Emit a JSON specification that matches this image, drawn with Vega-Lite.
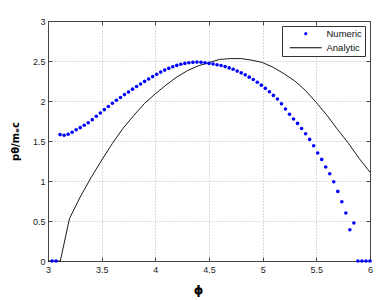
{
  "$schema": "https://vega.github.io/schema/vega-lite/v6.json",
  "width": 322,
  "height": 240,
  "autosize": {"type": "none"},
  "padding": {"left": 48, "top": 21, "right": 12, "bottom": 39},
  "background": "white",
  "config": {
    "view": {"stroke": null},
    "axis": {
      "domainColor": "#444444",
      "domainWidth": 1,
      "tickColor": "#444444",
      "tickSize": -4,
      "labelFont": "Liberation Sans",
      "labelFontSize": 9,
      "labelColor": "#222222",
      "gridColor": "#b8b8b8",
      "gridDash": [1, 2],
      "gridWidth": 1,
      "titleFont": "DejaVu Sans",
      "titleFontWeight": "bold",
      "titleColor": "#000000",
      "labelFlush": false,
      "labelOverlap": false,
      "format": "~g"
    }
  },
  "data": {
    "values": [
      {"series": "Numeric", "phi": 3.0375, "p": 0},
      {"series": "Numeric", "phi": 3.075, "p": 0},
      {"series": "Numeric", "phi": 3.1125, "p": 1.58},
      {"series": "Numeric", "phi": 3.15, "p": 1.571},
      {"series": "Numeric", "phi": 3.1875, "p": 1.585},
      {"series": "Numeric", "phi": 3.225, "p": 1.61},
      {"series": "Numeric", "phi": 3.2625, "p": 1.64},
      {"series": "Numeric", "phi": 3.3, "p": 1.667},
      {"series": "Numeric", "phi": 3.3375, "p": 1.696},
      {"series": "Numeric", "phi": 3.375, "p": 1.728},
      {"series": "Numeric", "phi": 3.4125, "p": 1.767},
      {"series": "Numeric", "phi": 3.45, "p": 1.809},
      {"series": "Numeric", "phi": 3.4875, "p": 1.85},
      {"series": "Numeric", "phi": 3.525, "p": 1.892},
      {"series": "Numeric", "phi": 3.5625, "p": 1.932},
      {"series": "Numeric", "phi": 3.6, "p": 1.971},
      {"series": "Numeric", "phi": 3.6375, "p": 2.009},
      {"series": "Numeric", "phi": 3.675, "p": 2.044},
      {"series": "Numeric", "phi": 3.7125, "p": 2.08},
      {"series": "Numeric", "phi": 3.75, "p": 2.113},
      {"series": "Numeric", "phi": 3.7875, "p": 2.148},
      {"series": "Numeric", "phi": 3.825, "p": 2.182},
      {"series": "Numeric", "phi": 3.8625, "p": 2.213},
      {"series": "Numeric", "phi": 3.9, "p": 2.245},
      {"series": "Numeric", "phi": 3.9375, "p": 2.275},
      {"series": "Numeric", "phi": 3.975, "p": 2.305},
      {"series": "Numeric", "phi": 4.0125, "p": 2.334},
      {"series": "Numeric", "phi": 4.05, "p": 2.361},
      {"series": "Numeric", "phi": 4.0875, "p": 2.386},
      {"series": "Numeric", "phi": 4.125, "p": 2.408},
      {"series": "Numeric", "phi": 4.1625, "p": 2.428},
      {"series": "Numeric", "phi": 4.2, "p": 2.445},
      {"series": "Numeric", "phi": 4.2375, "p": 2.459},
      {"series": "Numeric", "phi": 4.275, "p": 2.47},
      {"series": "Numeric", "phi": 4.3125, "p": 2.478},
      {"series": "Numeric", "phi": 4.35, "p": 2.483},
      {"series": "Numeric", "phi": 4.3875, "p": 2.486},
      {"series": "Numeric", "phi": 4.425, "p": 2.484},
      {"series": "Numeric", "phi": 4.4625, "p": 2.478},
      {"series": "Numeric", "phi": 4.5, "p": 2.47},
      {"series": "Numeric", "phi": 4.5375, "p": 2.462},
      {"series": "Numeric", "phi": 4.575, "p": 2.453},
      {"series": "Numeric", "phi": 4.6125, "p": 2.443},
      {"series": "Numeric", "phi": 4.65, "p": 2.43},
      {"series": "Numeric", "phi": 4.6875, "p": 2.414},
      {"series": "Numeric", "phi": 4.725, "p": 2.396},
      {"series": "Numeric", "phi": 4.7625, "p": 2.374},
      {"series": "Numeric", "phi": 4.8, "p": 2.352},
      {"series": "Numeric", "phi": 4.8375, "p": 2.327},
      {"series": "Numeric", "phi": 4.875, "p": 2.298},
      {"series": "Numeric", "phi": 4.9125, "p": 2.268},
      {"series": "Numeric", "phi": 4.95, "p": 2.235},
      {"series": "Numeric", "phi": 4.9875, "p": 2.198},
      {"series": "Numeric", "phi": 5.025, "p": 2.158},
      {"series": "Numeric", "phi": 5.0625, "p": 2.115},
      {"series": "Numeric", "phi": 5.1, "p": 2.07},
      {"series": "Numeric", "phi": 5.1375, "p": 2.025},
      {"series": "Numeric", "phi": 5.175, "p": 1.965},
      {"series": "Numeric", "phi": 5.2125, "p": 1.9},
      {"series": "Numeric", "phi": 5.25, "p": 1.835},
      {"series": "Numeric", "phi": 5.2875, "p": 1.775},
      {"series": "Numeric", "phi": 5.325, "p": 1.72},
      {"series": "Numeric", "phi": 5.3625, "p": 1.657},
      {"series": "Numeric", "phi": 5.4, "p": 1.59},
      {"series": "Numeric", "phi": 5.4375, "p": 1.52},
      {"series": "Numeric", "phi": 5.475, "p": 1.44},
      {"series": "Numeric", "phi": 5.5125, "p": 1.35},
      {"series": "Numeric", "phi": 5.55, "p": 1.27},
      {"series": "Numeric", "phi": 5.5875, "p": 1.175},
      {"series": "Numeric", "phi": 5.625, "p": 1.09},
      {"series": "Numeric", "phi": 5.6625, "p": 0.99},
      {"series": "Numeric", "phi": 5.7, "p": 0.87},
      {"series": "Numeric", "phi": 5.7375, "p": 0.74},
      {"series": "Numeric", "phi": 5.775, "p": 0.6},
      {"series": "Numeric", "phi": 5.8125, "p": 0.39},
      {"series": "Numeric", "phi": 5.85, "p": 0.475},
      {"series": "Numeric", "phi": 5.8875, "p": 0},
      {"series": "Numeric", "phi": 5.925, "p": 0},
      {"series": "Numeric", "phi": 5.9625, "p": 0},
      {"series": "Numeric", "phi": 6.0, "p": 0},
      {"series": "Analytic", "phi": 3.0, "p": 0},
      {"series": "Analytic", "phi": 3.115, "p": 0},
      {"series": "Analytic", "phi": 3.2, "p": 0.53},
      {"series": "Analytic", "phi": 3.3, "p": 0.8},
      {"series": "Analytic", "phi": 3.4, "p": 1.04},
      {"series": "Analytic", "phi": 3.5, "p": 1.26},
      {"series": "Analytic", "phi": 3.6, "p": 1.47},
      {"series": "Analytic", "phi": 3.7, "p": 1.66},
      {"series": "Analytic", "phi": 3.8, "p": 1.82},
      {"series": "Analytic", "phi": 3.9, "p": 1.97},
      {"series": "Analytic", "phi": 4.0, "p": 2.09},
      {"series": "Analytic", "phi": 4.1, "p": 2.2},
      {"series": "Analytic", "phi": 4.2, "p": 2.3},
      {"series": "Analytic", "phi": 4.3, "p": 2.38},
      {"series": "Analytic", "phi": 4.4, "p": 2.44},
      {"series": "Analytic", "phi": 4.5, "p": 2.48},
      {"series": "Analytic", "phi": 4.6, "p": 2.52},
      {"series": "Analytic", "phi": 4.7, "p": 2.53},
      {"series": "Analytic", "phi": 4.8, "p": 2.53},
      {"series": "Analytic", "phi": 4.9, "p": 2.51},
      {"series": "Analytic", "phi": 5.0, "p": 2.48},
      {"series": "Analytic", "phi": 5.1, "p": 2.42},
      {"series": "Analytic", "phi": 5.2, "p": 2.34},
      {"series": "Analytic", "phi": 5.3, "p": 2.25},
      {"series": "Analytic", "phi": 5.4, "p": 2.13},
      {"series": "Analytic", "phi": 5.5, "p": 1.98},
      {"series": "Analytic", "phi": 5.6, "p": 1.82},
      {"series": "Analytic", "phi": 5.7, "p": 1.64},
      {"series": "Analytic", "phi": 5.8, "p": 1.47},
      {"series": "Analytic", "phi": 5.9, "p": 1.28},
      {"series": "Analytic", "phi": 6.0, "p": 1.11}
    ]
  },
  "layer": [
    {
      "transform": [{"filter": "datum.series === 'Analytic'"}],
      "mark": {"type": "line", "strokeWidth": 0.9, "clip": false},
      "encoding": {
        "x": {
          "field": "phi", "type": "quantitative",
          "scale": {"domain": [3, 6], "nice": false, "zero": false},
          "axis": {"orient": "bottom", "values": [3, 3.5, 4, 4.5, 5, 5.5, 6], "grid": true, "title": "ϕ", "titleFontSize": 12, "titleX": 150, "titlePadding": 10, "labelPadding": 8}
        },
        "y": {
          "field": "p", "type": "quantitative",
          "scale": {"domain": [0, 3], "nice": false, "zero": false},
          "axis": {"orient": "left", "values": [0, 0.5, 1, 1.5, 2, 2.5, 3], "grid": true, "title": "pθ/mₑc", "titleFontSize": 10, "titlePadding": 12, "labelPadding": 7}
        },
        "color": {
          "field": "series", "type": "nominal",
          "scale": {"domain": ["Numeric", "Analytic"], "range": ["#0000ff", "#000000"]},
          "legend": {
            "title": null,
            "orient": "top-right",
            "offset": 5,
            "padding": 3,
            "rowPadding": 3,
            "labelFont": "Liberation Sans",
            "labelFontSize": 9.5,
            "labelColor": "#111111",
            "strokeColor": "#333333",
            "fillColor": "white",
            "cornerRadius": 0,
            "symbolSize": 16,
            "labelOffset": 32,
            "encode": {
              "symbols": {
                "update": {
                  "shape": {"signal": "datum.value === 'Numeric' ? 'M7.4,0A0.6,0.6 0 1,0 8.6,0A0.6,0.6 0 1,0 7.4,0Z' : 'M0,0L16,0'"},
                  "fill": {"signal": "datum.value === 'Numeric' ? '#0000ff' : 'transparent'"},
                  "stroke": {"signal": "datum.value === 'Numeric' ? '#0000ff' : '#222222'"},
                  "strokeWidth": {"value": 1},
                  "opacity": {"value": 1}
                }
              }
            }
          }
        }
      }
    },
    {
      "transform": [{"filter": "datum.series === 'Numeric'"}],
      "mark": {"type": "point", "filled": true, "size": 13, "opacity": 1, "clip": false},
      "encoding": {
        "x": {
          "field": "phi", "type": "quantitative",
          "scale": {"domain": [3, 6], "nice": false, "zero": false},
          "axis": {"orient": "top", "values": [3, 3.5, 4, 4.5, 5, 5.5, 6], "grid": false, "labels": false, "title": null}
        },
        "y": {
          "field": "p", "type": "quantitative",
          "scale": {"domain": [0, 3], "nice": false, "zero": false},
          "axis": {"orient": "right", "values": [0, 0.5, 1, 1.5, 2, 2.5, 3], "grid": false, "labels": false, "title": null}
        },
        "color": {"field": "series", "type": "nominal"}
      }
    }
  ],
  "resolve": {"axis": {"x": "independent", "y": "independent"}}
}
